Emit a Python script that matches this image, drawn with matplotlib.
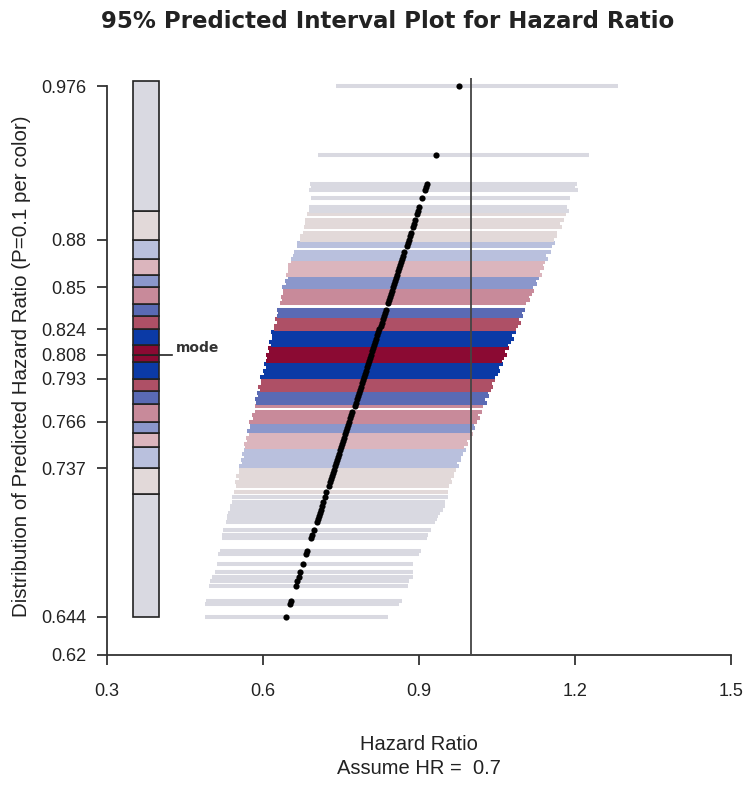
import matplotlib.pyplot as plt
import numpy as np
from matplotlib.patches import Rectangle

plt.rcParams['font.family'] = ['Liberation Sans', 'DejaVu Sans']

# predicted hazard ratios (one line per simulated result) with 95% limits
hr_pred = [
    0.644, 0.652, 0.654, 0.663, 0.666, 0.669, 0.672, 0.677, 0.683, 0.685,
    0.693, 0.695, 0.698, 0.703, 0.705, 0.707, 0.709, 0.711, 0.713, 0.716,
    0.719, 0.722, 0.726, 0.728, 0.730, 0.732, 0.734, 0.736, 0.738, 0.740,
    0.742, 0.744, 0.746, 0.748, 0.750, 0.752, 0.754, 0.756, 0.758, 0.760,
    0.762, 0.764, 0.766, 0.768, 0.770, 0.772, 0.776, 0.778, 0.780, 0.782,
    0.784, 0.786, 0.788, 0.790, 0.792, 0.794, 0.796, 0.798, 0.800, 0.802,
    0.804, 0.806, 0.808, 0.810, 0.812, 0.814, 0.816, 0.818, 0.820, 0.822,
    0.824, 0.826, 0.828, 0.830, 0.832, 0.834, 0.836, 0.840, 0.842, 0.844,
    0.846, 0.848, 0.850, 0.852, 0.854, 0.856, 0.858, 0.860, 0.862, 0.864,
    0.866, 0.868, 0.870, 0.872, 0.876, 0.878, 0.880, 0.882, 0.884, 0.888,
    0.890, 0.892, 0.896, 0.898, 0.9005, 0.906, 0.911, 0.913, 0.915, 0.933,
    0.976,
]
hr_lower = [
    0.488, 0.488, 0.490, 0.497, 0.499, 0.501, 0.508, 0.511, 0.514, 0.517,
    0.522, 0.522, 0.524, 0.528, 0.530, 0.531, 0.533, 0.536, 0.536, 0.540,
    0.541, 0.544, 0.549, 0.547, 0.553, 0.549, 0.554, 0.554, 0.553, 0.559,
    0.558, 0.563, 0.560, 0.564, 0.565, 0.563, 0.570, 0.568, 0.574, 0.570,
    0.575, 0.575, 0.574, 0.580, 0.579, 0.584, 0.585, 0.586, 0.584, 0.591,
    0.589, 0.595, 0.591, 0.596, 0.596, 0.595, 0.601, 0.600, 0.605, 0.602,
    0.606, 0.607, 0.605, 0.612, 0.610, 0.616, 0.612, 0.617, 0.617, 0.616,
    0.622, 0.621, 0.626, 0.623, 0.627, 0.628, 0.626, 0.632, 0.637, 0.634,
    0.638, 0.639, 0.637, 0.644, 0.642, 0.648, 0.644, 0.649, 0.649, 0.648,
    0.654, 0.653, 0.658, 0.660, 0.665, 0.666, 0.672, 0.671, 0.677, 0.679,
    0.681, 0.680, 0.684, 0.689, 0.689, 0.692, 0.688, 0.692, 0.690, 0.706,
    0.740,
]
hr_upper = [
    0.841, 0.862, 0.867, 0.879, 0.881, 0.889, 0.889, 0.889, 0.900, 0.903,
    0.915, 0.918, 0.924, 0.930, 0.935, 0.937, 0.940, 0.946, 0.950, 0.950,
    0.956, 0.955, 0.958, 0.964, 0.961, 0.968, 0.967, 0.972, 0.977, 0.974,
    0.981, 0.980, 0.985, 0.990, 0.987, 0.995, 0.993, 0.998, 1.004, 1.000,
    1.008, 1.006, 1.011, 1.017, 1.013, 1.021, 1.024, 1.030, 1.027, 1.034,
    1.033, 1.038, 1.043, 1.040, 1.047, 1.046, 1.051, 1.056, 1.053, 1.061,
    1.059, 1.064, 1.070, 1.066, 1.074, 1.072, 1.077, 1.083, 1.079, 1.087,
    1.086, 1.090, 1.096, 1.093, 1.100, 1.099, 1.103, 1.106, 1.113, 1.112,
    1.117, 1.122, 1.119, 1.127, 1.125, 1.130, 1.136, 1.132, 1.140, 1.138,
    1.143, 1.149, 1.145, 1.153, 1.156, 1.162, 1.159, 1.166, 1.165, 1.175,
    1.172, 1.179, 1.183, 1.188, 1.184, 1.190, 1.205, 1.200, 1.203, 1.226,
    1.283,
]

# distribution bar: segment edges (P=0.05 each) and colours, bottom to top
seg_edges = [0.644, 0.721, 0.737, 0.750, 0.759, 0.766, 0.777, 0.785, 0.793,
             0.8035, 0.808, 0.814, 0.824, 0.832, 0.8395, 0.850, 0.858, 0.868,
             0.880, 0.898, 0.979]
seg_colors = ['#d9d9e1', '#e2d9d9', '#b9c0dd', '#dbb5bd', '#8b97cb',
              '#c88a9a', '#5a6ab4', '#ae5066', '#0b3aa6', '#8b0a33',
              '#8b0a33', '#0b3aa6', '#ae5066', '#5a6ab4', '#c88a9a',
              '#8b97cb', '#dbb5bd', '#b9c0dd', '#e2d9d9', '#d9d9e1']
mode_hr = 0.808
assumed_hr = 0.7
null_hr = 1.0

x_ticks = [0.3, 0.6, 0.9, 1.2, 1.5]
x_tick_labels = ['0.3', '0.6', '0.9', '1.2', '1.5']
y_ticks = [0.62, 0.644, 0.737, 0.766, 0.793, 0.808, 0.824, 0.85, 0.88, 0.976]
y_tick_labels = ['0.62', '0.644', '0.737', '0.766', '0.793', '0.808',
                 '0.824', '0.85', '0.88', '0.976']

W, H = 747, 785
fig = plt.figure(figsize=(W / 100, H / 100), dpi=100)
ax = fig.add_axes([107 / W, 1 - 655 / H, 624 / W, 585 / H])
ax.set_xlim(0.3, 1.5)
ax.set_ylim(0.62, 0.62 + 585 / 1598)

hr = np.array(hr_pred)
idx = np.clip(np.searchsorted(seg_edges, hr, side='right') - 1, 0, len(seg_colors) - 1)
line_colors = [seg_colors[i] for i in idx]
ax.hlines(hr, hr_lower, hr_upper, colors=line_colors, lw=2.9, zorder=2)
ax.scatter(hr, hr, s=20, color='black', linewidths=0, zorder=3)

# distribution bar on the left
for i in range(len(seg_colors)):
    ax.add_patch(Rectangle((0.35, seg_edges[i]), 0.05, seg_edges[i + 1] - seg_edges[i],
                           facecolor=seg_colors[i], edgecolor='#222222', lw=1.2, zorder=3))
ax.plot([0.40, 0.425], [mode_hr, mode_hr], color='#222222', lw=1.2, zorder=3)
ax.annotate('mode', (0.432, mode_hr), xytext=(0, 5), textcoords='offset points',
            fontsize=10, fontweight='bold', family='DejaVu Sans',
            color='#333333', va='center', ha='left')

ax.vlines(null_hr, 0.62, 0.981, color='#444444', lw=1.3, zorder=4)

for s in ['top', 'right']:
    ax.spines[s].set_visible(False)
ax.spines['left'].set_bounds(0.62, 0.976)
ax.spines['bottom'].set_bounds(0.3, 1.5)
for s in ['left', 'bottom']:
    ax.spines[s].set_linewidth(1.3)
    ax.spines[s].set_color('#333333')

ax.set_xticks(x_ticks)
ax.set_xticklabels(x_tick_labels)
ax.set_yticks(y_ticks)
ax.set_yticklabels(y_tick_labels)
ax.tick_params(direction='out', length=7, width=1.3, color='#333333',
               labelsize=13, labelcolor='#222222')
ax.tick_params(axis='x', pad=13)
ax.tick_params(axis='y', pad=8)

fig.text(388 / W, 1 - 22 / H, '95% Predicted Interval Plot for Hazard Ratio',
         ha='center', va='center', fontsize=16.5, fontweight='bold', family='DejaVu Sans',
         color='#222222')
fig.text(22 / W, 1 - 366 / H, 'Distribution of Predicted Hazard Ratio (P=0.1 per color)',
         rotation=90, ha='center', va='center', fontsize=14.8, color='#222222')
fig.text(419 / W, 1 - 745 / H, 'Hazard Ratio', ha='center', va='center',
         fontsize=14.5, color='#222222')
fig.text(419 / W, 1 - 768 / H, f'Assume HR =  {assumed_hr}', ha='center', va='center',
         fontsize=14.5, color='#222222')

fig.savefig('out.png', dpi=100)
